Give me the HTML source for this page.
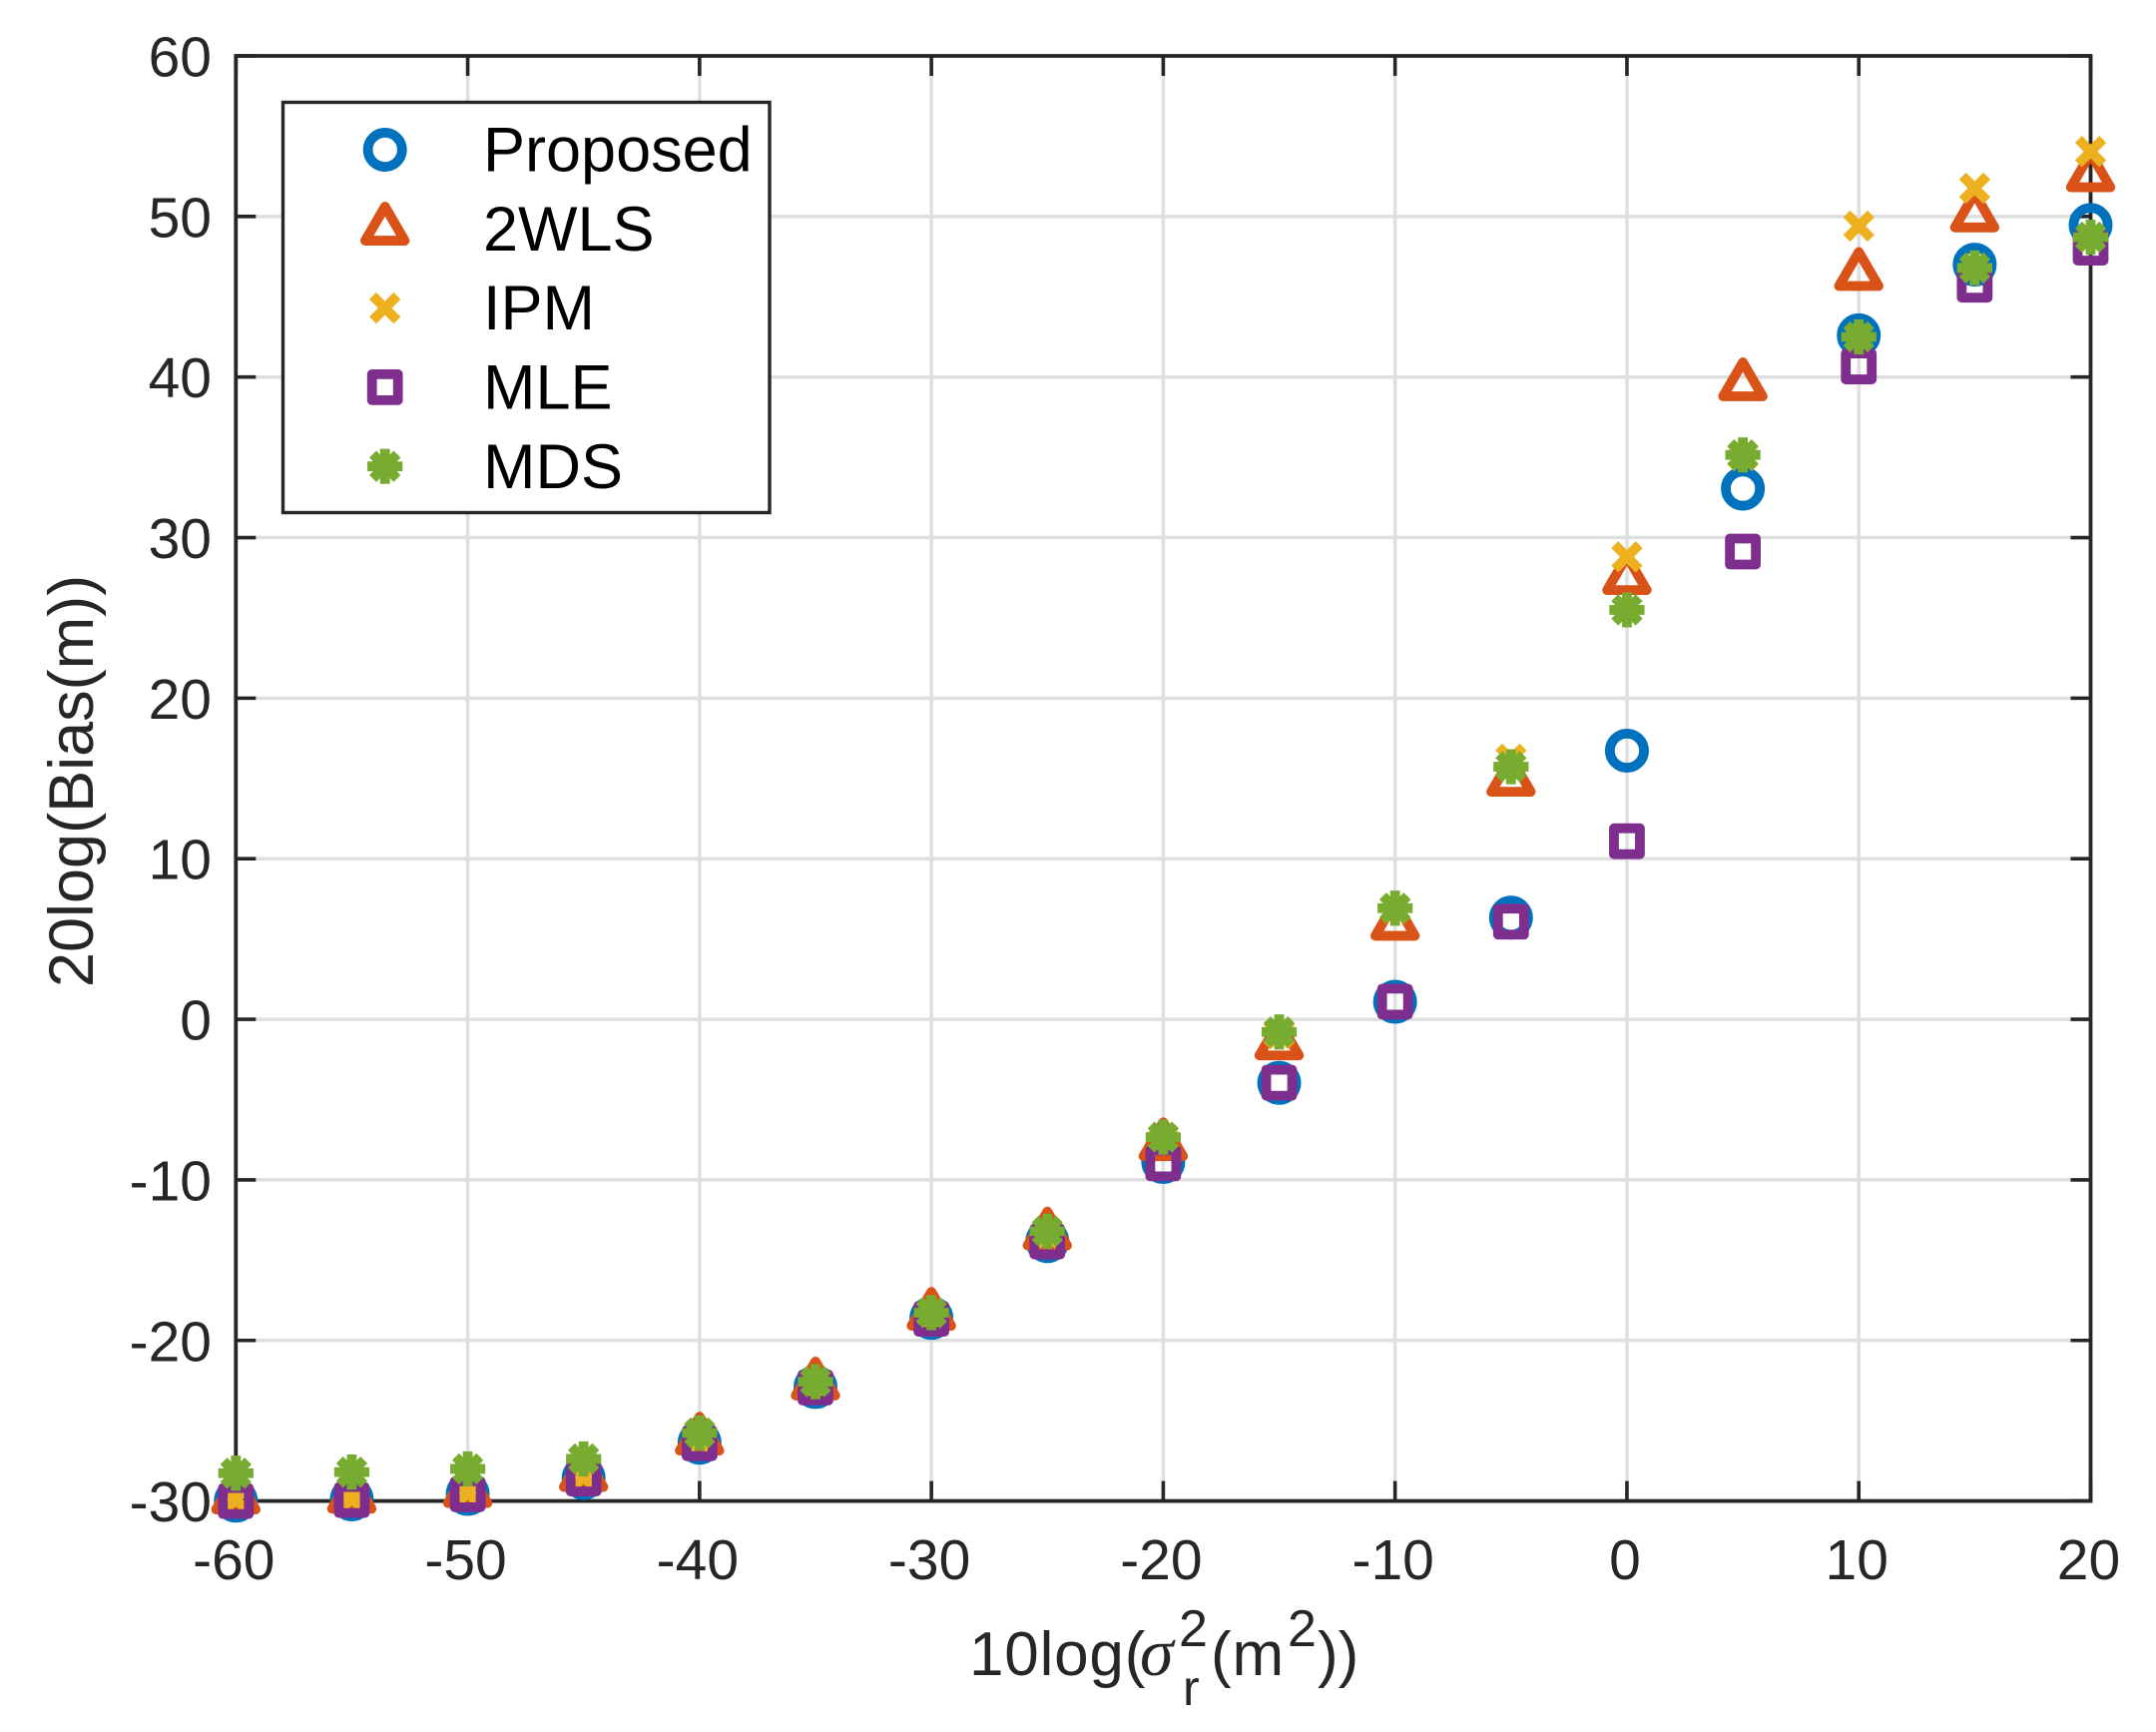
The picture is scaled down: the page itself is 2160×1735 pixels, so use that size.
<!DOCTYPE html>
<html lang="en">
<head>
<meta charset="utf-8">
<title>Bias versus range noise variance</title>
<style>
html,body{margin:0;padding:0;background:#fff;}
svg{display:block;}
text{font-family:"Liberation Sans",sans-serif;}
</style>
</head>
<body>
<svg id="chart" xmlns="http://www.w3.org/2000/svg" width="2160" height="1735" viewBox="0 0 2160 1735">
  <rect x="0" y="0" width="2160" height="1735" fill="#ffffff"/>
  <g id="grid"></g>
  <g id="axes"></g>
  <g id="series"></g>
  <text transform="translate(93,782.5) rotate(-90)" text-anchor="middle" font-size="63" fill="#262626">20log(Bias(m))</text>
  <g fill="#262626">
    <text x="971" y="1678" font-size="62" letter-spacing="0.8">10log(</text>
    <text x="1142" y="1678" font-size="68" style="font-family:'Liberation Serif',serif;font-style:italic">σ</text>
    <text x="1181" y="1649" font-size="52">2</text>
    <text x="1185" y="1708" font-size="50">r</text>
    <text x="1213" y="1678" font-size="62" letter-spacing="0.8">(m</text>
    <text x="1290" y="1649" font-size="52">2</text>
    <text x="1320" y="1678" font-size="62">))</text>
  </g>
  <g id="legend">
    <rect x="283.5" y="102.5" width="487.5" height="411" fill="#ffffff" stroke="#262626" stroke-width="3.4"/>
  </g>
</svg>
<script>
// Chart data
const xValues = [-60,-55,-50,-45,-40,-35,-30,-25,-20,-15,-10,-5,0,5,10,15,20];
const proposedValues = [-29.98,-29.9,-29.56,-28.57,-26.37,-22.9,-18.6,-13.82,-8.89,-3.96,1.09,6.33,16.73,33.05,42.6,47.0,49.47];
const wlsValues = [-29.8,-29.75,-29.4,-28.4,-26.13,-22.7,-18.36,-13.36,-7.8,-1.52,5.93,14.9,27.46,39.53,46.4,50.05,52.55];
const ipmValues = [-29.9,-29.85,-29.5,-28.5,-26.2,-22.8,-18.4,-13.4,-7.6,-0.9,6.9,16.2,28.8,35.1,49.4,51.76,54.05];
const mleValues = [-30.0,-29.94,-29.58,-28.6,-26.4,-22.93,-18.65,-13.84,-8.97,-3.95,1.1,6.08,11.09,29.13,40.66,45.75,48.06];
const mdsValues = [-28.27,-28.2,-28.0,-27.38,-25.76,-22.57,-18.27,-13.2,-7.34,-0.79,6.92,15.73,25.5,35.15,42.5,46.8,48.71];
const xTickValues = [-60,-50,-40,-30,-20,-10,0,10,20];
const yTickValues = [-30,-20,-10,0,10,20,30,40,50,60];
const legendLabels = ["Proposed","2WLS","IPM","MLE","MDS"];

const NS = "http://www.w3.org/2000/svg";
const plot = {left:236.3, right:2094.5, top:56, bottom:1503.6};
const xMin = -60, xMax = 20, yMin = -30, yMax = 60;
function sx(v){ return plot.left + (v - xMin) / (xMax - xMin) * (plot.right - plot.left); }
function sy(v){ return plot.bottom - (v - yMin) / (yMax - yMin) * (plot.bottom - plot.top); }
function make(tag, attrs, parent){
  const el = document.createElementNS(NS, tag);
  for (const k in attrs) el.setAttribute(k, attrs[k]);
  parent.appendChild(el);
  return el;
}
const AXIS = "#262626", GRID = "#dfdfdf", SW = 9.8;
const COLORS = {circle:"#0072bd", triangle:"#d95319", cross:"#edb120", square:"#7e2f8e", star:"#77ac30"};

const gridG = document.getElementById("grid");
const axesG = document.getElementById("axes");
const seriesG = document.getElementById("series");
const legendG = document.getElementById("legend");

// grid lines and ticks
xTickValues.forEach(function(v){
  const x = sx(v);
  if (v !== xMin && v !== xMax) {
    const g = make("line", {x1:x, x2:x, y1:plot.top, y2:plot.bottom, stroke:GRID, "stroke-width":3.5}, gridG);
    
    
  }
  const t1 = make("line", {x1:x, x2:x, y1:plot.bottom, y2:plot.bottom-20, stroke:AXIS, "stroke-width":3.6}, axesG);
  
  
  const t2 = make("line", {x1:x, x2:x, y1:plot.top, y2:plot.top+20, stroke:AXIS, "stroke-width":3.6}, axesG);
  
  
  const lab = make("text", {x:x-2, y:1582, "text-anchor":"middle", "font-size":57, fill:AXIS}, axesG);
  
  
  lab.textContent = String(v);
});
yTickValues.forEach(function(v){
  const y = sy(v);
  if (v !== yMin && v !== yMax) {
    const g = make("line", {x1:plot.left, x2:plot.right, y1:y, y2:y, stroke:GRID, "stroke-width":3.5}, gridG);
    
    
  }
  const t1 = make("line", {x1:plot.left, x2:plot.left+20, y1:y, y2:y, stroke:AXIS, "stroke-width":3.6}, axesG);
  
  
  const t2 = make("line", {x1:plot.right, x2:plot.right-20, y1:y, y2:y, stroke:AXIS, "stroke-width":3.6}, axesG);
  
  
  const lab = make("text", {x:212, y:y+20.5, "text-anchor":"end", "font-size":57, fill:AXIS}, axesG);
  
  
  lab.textContent = String(v);
});
const frame = make("rect", {x:plot.left, y:plot.top, width:plot.right-plot.left, height:plot.bottom-plot.top, fill:"none", stroke:AXIS, "stroke-width":3.8}, axesG);



// marker shapes, drawn around (cx, cy)
function drawCircle(cx, cy, parent){
  return make("circle", {cx:cx, cy:cy, r:17.1, fill:"none", stroke:COLORS.circle, "stroke-width":SW}, parent);
}
function drawTriangle(cx, cy, parent){
  const d = "M"+cx+" "+(cy-22.3)+"L"+(cx+19.8)+" "+(cy+11.75)+"L"+(cx-19.8)+" "+(cy+11.75)+"Z";
  return make("path", {d:d, fill:"none", stroke:COLORS.triangle, "stroke-width":SW, "stroke-linejoin":"round"}, parent);
}
function drawCross(cx, cy, parent){
  const h = 12.2;
  const d = "M"+(cx-h)+" "+(cy-h)+"L"+(cx+h)+" "+(cy+h)+"M"+(cx-h)+" "+(cy+h)+"L"+(cx+h)+" "+(cy-h);
  return make("path", {d:d, fill:"none", stroke:COLORS.cross, "stroke-width":SW}, parent);
}
function drawSquare(cx, cy, parent){
  return make("rect", {x:cx-13, y:cy-13, width:26, height:26, fill:"none", stroke:COLORS.square, "stroke-width":SW, "stroke-linejoin":"round"}, parent);
}
function drawStar(cx, cy, parent){
  const a = 17.6, b = 12.2;
  const d = "M"+(cx-a)+" "+cy+"L"+(cx+a)+" "+cy+"M"+cx+" "+(cy-a)+"L"+cx+" "+(cy+a)
    +"M"+(cx-b)+" "+(cy-b)+"L"+(cx+b)+" "+(cy+b)+"M"+(cx-b)+" "+(cy+b)+"L"+(cx+b)+" "+(cy-b);
  return make("path", {d:d, fill:"none", stroke:COLORS.star, "stroke-width":SW}, parent);
}

// series, in stacking order
xValues.forEach(function(xv, i){
  const m = drawCircle(sx(xv), sy(proposedValues[i]), seriesG);
  
  
});
xValues.forEach(function(xv, i){
  const m = drawTriangle(sx(xv), sy(wlsValues[i]), seriesG);
  
  
});
xValues.forEach(function(xv, i){
  const m = drawCross(sx(xv), sy(ipmValues[i]), seriesG);
  
  
});
xValues.forEach(function(xv, i){
  const m = drawSquare(sx(xv), sy(mleValues[i]), seriesG);
  
  
});
xValues.forEach(function(xv, i){
  const m = drawStar(sx(xv), sy(mdsValues[i]), seriesG);
  
  
});

// legend entries
const legendDraw = [drawCircle, drawTriangle, drawCross, drawSquare, drawStar];
legendLabels.forEach(function(label, i){
  const rowY = 150 + i * 79.3;
  const icon = legendDraw[i](385.7, rowY, legendG);
  
  
  const t = make("text", {x:484, y:rowY + 21.6, "font-size":63, fill:"#000000"}, legendG);
  
  
  t.textContent = label;
});
</script>
</body>
</html>
